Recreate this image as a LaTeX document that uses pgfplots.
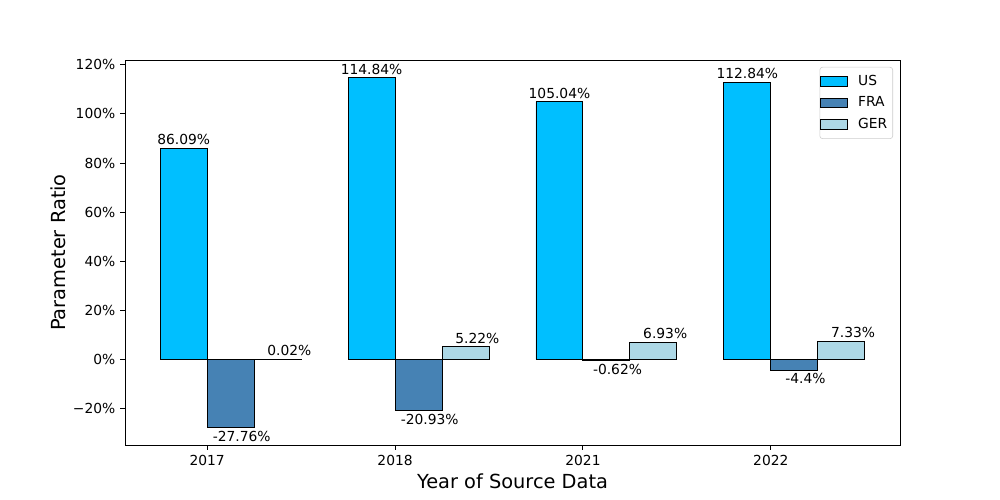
\documentclass[border=0pt]{standalone}
\usepackage{fontspec}
\setmainfont{DejaVu Sans}
\usepackage{pgfplots}
\pgfplotsset{compat=1.18}
\definecolor{cUS}{RGB}{0,191,255}
\definecolor{cFRA}{RGB}{70,130,180}
\definecolor{cGER}{RGB}{173,216,230}
\begin{document}
\begin{tikzpicture}
\path (-1.25in,-0.55in) rectangle (8.75in,4.45in);
\begin{axis}[
  at={(0,0)}, anchor=south west,
  scale only axis, width=7.75in, height=3.85in,
  xmin=-0.4375, xmax=3.6875,
  ymin=-34.89, ymax=121.97,
  xtick={0,1,2,3},
  xticklabels={2017,2018,2021,2022},
  ytick={-20,0,20,40,60,80,100,120},
  yticklabels={−20\%,0\%,20\%,40\%,60\%,80\%,100\%,120\%},
  tick label style={font=\fontsize{10}{12}\selectfont},
  tick align=outside,
  tick pos=left,
  major tick length=3.5pt,
  xlabel={Year of Source Data},
  ylabel={Parameter Ratio},
  label style={font=\fontsize{14}{16}\selectfont},
  xlabel style={yshift=1pt},
  ylabel style={yshift=-2pt},
  axis line style={line width=0.7pt},
  every tick/.style={black, line width=0.7pt},
  legend style={at={(0.991,0.982)}, anchor=north east, draw=black!20, rounded corners=2pt,
    font=\fontsize{10}{12}\selectfont, row sep=2.5pt, inner xsep=0pt, inner ysep=4pt,
    nodes={inner xsep=4pt}},
  legend cell align=left,
  legend image code/.code={\draw[#1, draw=black, sharp corners] (0pt,-3.5pt) rectangle (20pt,3.5pt);},
  nodes near coords,
  point meta=explicit symbolic,
  every node near coord/.append style={font=\fontsize{10}{12}\selectfont, inner sep=2pt, black},
]
\addplot[ybar, bar width=0.25, bar shift=0, fill=cUS, draw=black, line width=0.7pt,
  every node near coord/.append style={anchor=south}]
  coordinates {(-0.125,86.09)[86.09\%] (0.875,114.84)[114.84\%] (1.875,105.04)[105.04\%] (2.875,112.84)[112.84\%]};
\addlegendentry{\hspace*{3pt}US}
\addplot[ybar, bar width=0.25, bar shift=0, fill=cFRA, draw=black, line width=0.7pt,
  every node near coord/.append style={anchor=north, xshift=8pt}]
  coordinates {(0.125,-27.76)[-27.76\%] (1.125,-20.93)[-20.93\%] (2.125,-0.62)[-0.62\%] (3.125,-4.4)[-4.4\%]};
\addlegendentry{\hspace*{3pt}FRA}
\addplot[ybar, bar width=0.25, bar shift=0, fill=cGER, draw=black, line width=0.7pt,
  every node near coord/.append style={anchor=south, xshift=8.5pt}]
  coordinates {(0.375,0.02)[0.02\%] (1.375,5.22)[5.22\%] (2.375,6.93)[6.93\%] (3.375,7.33)[7.33\%]};
\addlegendentry{\hspace*{3pt}GER}
\end{axis}
\end{tikzpicture}
\end{document}
